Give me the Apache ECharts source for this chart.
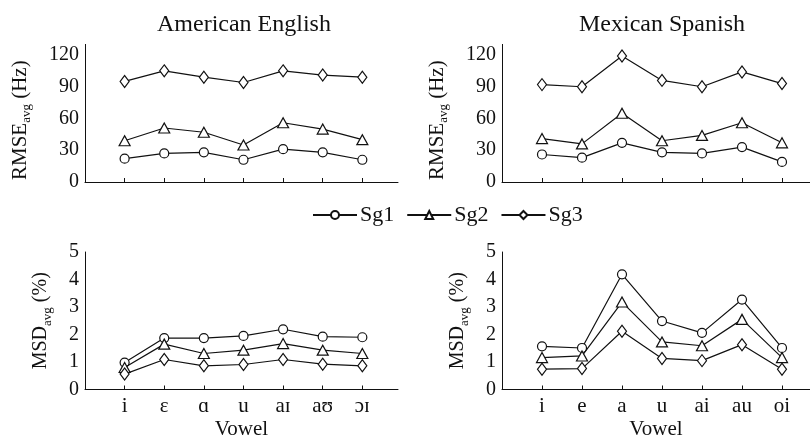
<!DOCTYPE html>
<html>
<head>
<meta charset="utf-8">
<script src="https://cdn.jsdelivr.net/npm/echarts@6/dist/echarts.min.js"></script>
<style>
html,body{margin:0;padding:0;background:#fff;}
#chart{width:810px;height:435px;}
</style>
</head>
<body>
<div id="chart"></div>
<script>
// ---- data ----
const titles = ['American English', 'Mexican Spanish'];
const vowelsEN = ['i', 'ɛ', 'ɑ', 'u', 'aɪ', 'aʊ', 'ɔɪ'];
const vowelsES = ['i', 'e', 'a', 'u', 'ai', 'au', 'oi'];
const seriesNames = ['Sg1', 'Sg2', 'Sg3'];

const rmseEN_Sg1 = [22, 27, 28, 21, 31, 28, 21];
const rmseEN_Sg2 = [39, 51, 47, 35, 56, 50, 40];
const rmseEN_Sg3 = [95, 105, 99, 94, 105, 101, 99];

const rmseES_Sg1 = [26, 23, 37, 28, 27, 33, 19];
const rmseES_Sg2 = [41, 36, 65, 39, 44, 56, 37];
const rmseES_Sg3 = [92, 90, 119, 96, 90, 104, 93];

const msdEN_Sg1 = [0.98, 1.87, 1.87, 1.95, 2.19, 1.92, 1.9];
const msdEN_Sg2 = [0.8, 1.65, 1.31, 1.43, 1.67, 1.43, 1.31];
const msdEN_Sg3 = [0.56, 1.09, 0.86, 0.91, 1.09, 0.92, 0.86];

const msdES_Sg1 = [1.57, 1.51, 4.19, 2.49, 2.06, 3.27, 1.51];
const msdES_Sg2 = [1.16, 1.22, 3.18, 1.73, 1.59, 2.55, 1.16];
const msdES_Sg3 = [0.74, 0.76, 2.12, 1.13, 1.05, 1.63, 0.74];

const rmseTicks = [0, 30, 60, 90, 120];
const msdTicks = [0, 1, 2, 3, 4, 5];
const xPositions = [1, 2, 3, 4, 5, 6, 7];

// ---- chart ----
const FONT = '"Liberation Serif", "Times New Roman", "DejaVu Serif", serif';
const INK = '#111';
const symbols = ['circle', 'triangle', 'diamond'];
const symbolSizes = [9, [11, 10], [9, 12]];

function pairs(vals) { return vals.map((v, i) => [xPositions[i], v]); }

const grids = [
  { left: 85, top: 44.4, width: 313, height: 137.6, outerBoundsMode: 'none', containLabel: false },
  { left: 502, top: 44.4, width: 308, height: 137.6, outerBoundsMode: 'none', containLabel: false },
  { left: 85, top: 252, width: 313, height: 137.5, outerBoundsMode: 'none', containLabel: false },
  { left: 502, top: 252, width: 308, height: 137.5, outerBoundsMode: 'none', containLabel: false }
];

function xAxis(idx, labels, xmax, showName) {
  return {
    type: 'value', gridIndex: idx, min: 0, max: xmax,
    axisLine: { lineStyle: { color: INK, width: 1 } },
    axisTick: { show: true, inside: true, length: 4, customValues: xPositions, lineStyle: { color: INK } },
    axisLabel: {
      show: showName, customValues: xPositions, margin: 6,
      formatter: v => labels[Math.round(v) - 1] || '',
      color: INK, fontFamily: FONT, fontSize: 21
    },
    splitLine: { show: false },
    name: showName ? 'Vowel' : '', nameLocation: 'middle', nameGap: 29,
    nameTextStyle: { color: INK, fontFamily: FONT, fontSize: 21 }
  };
}

function yAxis(idx, max, interval, ticks, mainName, unit, gap, fs, pad) {
  return {
    type: 'value', gridIndex: idx, min: 0, max: max, interval: interval,
    axisLine: { show: true, lineStyle: { color: INK, width: 1 } },
    axisTick: { show: false },
    axisLabel: { customValues: ticks, margin: 6, color: INK, fontFamily: FONT, fontSize: 20 },
    splitLine: { show: false },
    name: '{m|' + mainName + '}{s|avg}{m| ' + unit + '}',
    nameLocation: 'middle', nameGap: gap, nameRotate: 90,
    nameTextStyle: {
      color: INK, fontFamily: FONT, padding: pad,
      rich: {
        m: { fontSize: fs, lineHeight: 26, fontFamily: FONT, color: INK },
        s: { fontSize: 13, lineHeight: 13, verticalAlign: 'bottom', fontFamily: FONT, color: INK }
      }
    }
  };
}

const panels = [
  [rmseEN_Sg1, rmseEN_Sg2, rmseEN_Sg3],
  [rmseES_Sg1, rmseES_Sg2, rmseES_Sg3],
  [msdEN_Sg1, msdEN_Sg2, msdEN_Sg3],
  [msdES_Sg1, msdES_Sg2, msdES_Sg3]
];

const series = [];
panels.forEach((p, gi) => {
  p.forEach((vals, si) => {
    series.push({
      name: seriesNames[si], type: 'line', xAxisIndex: gi, yAxisIndex: gi,
      data: pairs(vals),
      symbol: symbols[si], symbolSize: symbolSizes[si], showAllSymbol: true,
      lineStyle: { color: INK, width: 1.2 },
      itemStyle: { color: '#fff', borderColor: INK, borderWidth: 1.2 },
      emphasis: { disabled: true },
      animation: false, z: 3 + si
    });
  });
});

const chart = echarts.init(document.getElementById('chart'), null, { renderer: 'canvas' });
chart.setOption({
  backgroundColor: '#fff',
  animation: false,
  title: [
    { text: titles[0], left: 152, top: 8, textStyle: { fontFamily: FONT, fontSize: 24, fontWeight: 'normal', color: INK } },
    { text: titles[1], left: 574, top: 8, textStyle: { fontFamily: FONT, fontSize: 24, fontWeight: 'normal', color: INK } }
  ],
  legend: {
    data: seriesNames, left: 312, top: 204, padding: 0,
    itemWidth: 44, itemHeight: 10, itemGap: 12,
    textStyle: { fontFamily: FONT, fontSize: 22, color: INK, padding: [0, 0, 0, -2] },
    selectedMode: false
  },
  grid: grids,
  xAxis: [xAxis(0, vowelsEN, 7.9, false), xAxis(1, vowelsES, 7.7, false), xAxis(2, vowelsEN, 7.9, true), xAxis(3, vowelsES, 7.7, true)],
  yAxis: [
    yAxis(0, 130, 10, rmseTicks, 'RMSE', '(Hz)', 52, 21, [0, 14, 0, 0]),
    yAxis(1, 130, 10, rmseTicks, 'RMSE', '(Hz)', 52, 21, [0, 14, 0, 0]),
    yAxis(2, 5, 1, msdTicks, 'MSD', '(%)', 31, 20, 0),
    yAxis(3, 5, 1, msdTicks, 'MSD', '(%)', 31, 20, 0)
  ],
  series: series
});
</script>
</body>
</html>
